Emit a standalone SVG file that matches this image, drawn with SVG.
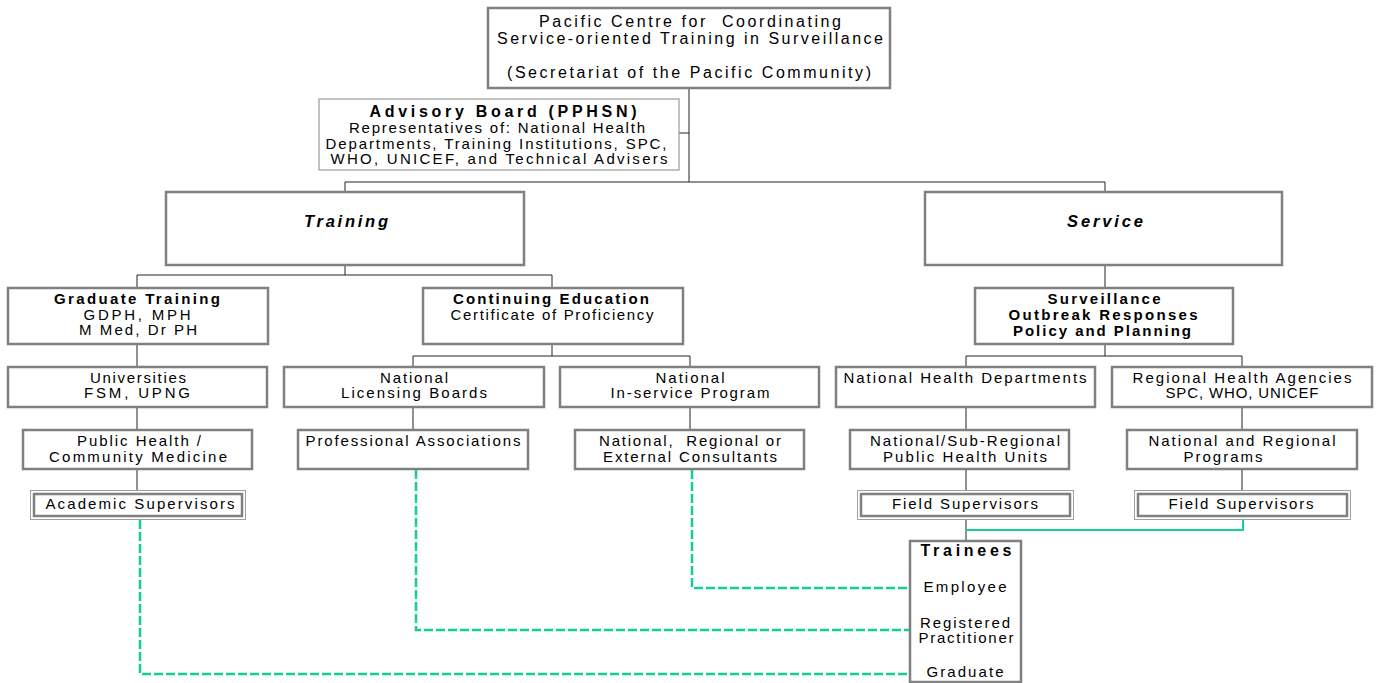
<svg xmlns="http://www.w3.org/2000/svg" width="1378" height="683" viewBox="0 0 1378 683">
<style>
text{font-family:"Liberation Sans",Arial,sans-serif;font-size:15px;fill:#000;text-anchor:middle}
.b{font-weight:bold;font-size:15px}
.bi{font-weight:bold;font-style:italic;font-size:16.5px}
.top{font-size:16px}
.big{font-size:16px}
.pre{white-space:pre}
.box{fill:#fff;stroke:#808080;stroke-width:2.5}
.thin{fill:#fff;stroke:#9a9a9a;stroke-width:1.2}
.outer{fill:#fff;stroke:#a0a0a0;stroke-width:1}
.inner{fill:none;stroke:#808080;stroke-width:2.5}
.con{fill:none;stroke:#222;stroke-width:1}
.g{fill:none;stroke:#14cf98;stroke-width:2}
.gd{fill:none;stroke:#10cf98;stroke-width:2.5;stroke-dasharray:9 3}
</style>
<g id="connectors">
<path class="con" d="M689 88V182M679 133H689M345 182H1105M345 182V192M1105 182V192"/>
<path class="con" d="M345 265V275M137 275H552M137 275V288M552 275V288"/>
<path class="con" d="M137 344V367M137 407V430M137 469V490"/>
<path class="con" d="M552 344V356M413 356H690M413 356V367M690 356V367M413 407V430M690 407V430"/>
<path class="con" d="M1105 265V288M1105 344V356M966 356H1242M966 356V367M1242 356V367"/>
<path class="con" d="M966 407V430M966 469V490M966 519V541M1242 407V430M1242 469V490"/>
<path class="g" d="M1243 519V530H966"/>
<path class="gd" d="M692 470V588H910"/>
<path class="gd" d="M416 470V630H910"/>
<path class="gd" d="M140 520V674H918"/>
</g>
<g id="pacific-centre">
<rect class="box" x="488" y="8" width="402" height="80"/>
<text class="pre top" x="690" y="27" textLength="302" lengthAdjust="spacing">Pacific Centre for  Coordinating</text>
<text class="top" x="690" y="44" textLength="386" lengthAdjust="spacing">Service-oriented Training in Surveillance</text>
<text class="top" x="689" y="78" textLength="364" lengthAdjust="spacing">(Secretariat of the Pacific Community)</text>
</g>
<g id="advisory-board">
<rect class="thin" x="319" y="99" width="360" height="71"/>
<text class="b big" x="503" y="117" textLength="267" lengthAdjust="spacing">Advisory Board (PPHSN)</text>
<text x="497" y="133" textLength="296" lengthAdjust="spacing">Representatives of: National Health</text>
<text x="496" y="149" textLength="341" lengthAdjust="spacing">Departments, Training Institutions, SPC,</text>
<text x="499" y="164" textLength="337" lengthAdjust="spacing">WHO, UNICEF, and Technical Advisers</text>
</g>
<g id="training">
<rect class="box" x="166" y="192" width="358" height="73"/>
<text class="bi" x="346" y="227" textLength="84" lengthAdjust="spacing">Training</text>
</g>
<g id="service">
<rect class="box" x="925" y="192" width="357" height="73"/>
<text class="bi" x="1105" y="227" textLength="76" lengthAdjust="spacing">Service</text>
</g>
<g id="graduate-training">
<rect class="box" x="8" y="288" width="260" height="56"/>
<text class="b" x="137" y="304" textLength="166" lengthAdjust="spacing">Graduate Training</text>
<text x="137" y="320" textLength="107" lengthAdjust="spacing">GDPH, MPH</text>
<text x="138" y="335" textLength="118" lengthAdjust="spacing">M Med, Dr PH</text>
</g>
<g id="continuing-education">
<rect class="box" x="423" y="288" width="260" height="56"/>
<text class="b" x="551" y="304" textLength="196" lengthAdjust="spacing">Continuing Education</text>
<text x="552" y="320" textLength="203" lengthAdjust="spacing">Certificate of Proficiency</text>
</g>
<g id="surveillance">
<rect class="box" x="975" y="288" width="258" height="56"/>
<text class="b" x="1104" y="304" textLength="113" lengthAdjust="spacing">Surveillance</text>
<text class="b" x="1103" y="320" textLength="189" lengthAdjust="spacing">Outbreak Responses</text>
<text class="b" x="1102" y="336" textLength="178" lengthAdjust="spacing">Policy and Planning</text>
</g>
<g id="universities">
<rect class="box" x="8" y="367" width="259" height="40"/>
<text x="138" y="383" textLength="96" lengthAdjust="spacing">Universities</text>
<text x="137" y="398" textLength="106" lengthAdjust="spacing">FSM, UPNG</text>
</g>
<g id="licensing-boards">
<rect class="box" x="284" y="367" width="260" height="40"/>
<text x="414" y="383" textLength="68" lengthAdjust="spacing">National</text>
<text x="414" y="398" textLength="146" lengthAdjust="spacing">Licensing Boards</text>
</g>
<g id="inservice-program">
<rect class="box" x="560" y="367" width="259" height="40"/>
<text x="690" y="383" textLength="69" lengthAdjust="spacing">National</text>
<text x="690" y="398" textLength="159" lengthAdjust="spacing">In-service Program</text>
</g>
<g id="national-health-departments">
<rect class="box" x="836" y="367" width="259" height="40"/>
<text x="965" y="383" textLength="243" lengthAdjust="spacing">National Health Departments</text>
</g>
<g id="regional-health-agencies">
<rect class="box" x="1112" y="367" width="260" height="40"/>
<text x="1242" y="383" textLength="219" lengthAdjust="spacing">Regional Health Agencies</text>
<text x="1242" y="398" textLength="153" lengthAdjust="spacing">SPC, WHO, UNICEF</text>
</g>
<g id="public-health">
<rect class="box" x="23" y="430" width="229" height="39"/>
<text x="139" y="446" textLength="124" lengthAdjust="spacing">Public Health /</text>
<text x="138" y="462" textLength="178" lengthAdjust="spacing">Community Medicine</text>
</g>
<g id="professional-associations">
<rect class="box" x="298" y="430" width="230" height="39"/>
<text x="413" y="446" textLength="215" lengthAdjust="spacing">Professional Associations</text>
</g>
<g id="consultants">
<rect class="box" x="575" y="430" width="229" height="39"/>
<text class="pre" x="690" y="446" textLength="182" lengthAdjust="spacing">National,  Regional or</text>
<text x="690" y="462" textLength="174" lengthAdjust="spacing">External Consultants</text>
</g>
<g id="public-health-units">
<rect class="box" x="850" y="430" width="219" height="39"/>
<text x="965" y="446" textLength="190" lengthAdjust="spacing">National/Sub-Regional</text>
<text x="965" y="462" textLength="164" lengthAdjust="spacing">Public Health Units</text>
</g>
<g id="regional-programs">
<rect class="box" x="1127" y="430" width="230" height="39"/>
<text x="1242" y="446" textLength="187" lengthAdjust="spacing">National and Regional</text>
<text x="1223" y="462" textLength="79" lengthAdjust="spacing">Programs</text>
</g>
<g id="academic-supervisors">
<rect class="outer" x="30.5" y="490.5" width="215" height="29"/>
<rect class="inner" x="34" y="494" width="208" height="22"/>
<text x="140" y="509" textLength="189" lengthAdjust="spacing">Academic Supervisors</text>
</g>
<g id="field-supervisors-1">
<rect class="outer" x="857.5" y="490.5" width="216" height="29"/>
<rect class="inner" x="861" y="494" width="209" height="22"/>
<text x="965" y="509" textLength="146" lengthAdjust="spacing">Field Supervisors</text>
</g>
<g id="field-supervisors-2">
<rect class="outer" x="1134.5" y="490.5" width="216" height="29"/>
<rect class="inner" x="1138" y="494" width="209" height="22"/>
<text x="1241" y="509" textLength="145" lengthAdjust="spacing">Field Supervisors</text>
</g>
<g id="trainees">
<rect class="box" x="910" y="541" width="111" height="141"/>
<text class="b big" x="966" y="556" textLength="91" lengthAdjust="spacing">Trainees</text>
<text x="965" y="592" textLength="83" lengthAdjust="spacing">Employee</text>
<text x="965" y="628" textLength="90" lengthAdjust="spacing">Registered</text>
<text x="966" y="643" textLength="95" lengthAdjust="spacing">Practitioner</text>
<text x="965" y="677" textLength="77" lengthAdjust="spacing">Graduate</text>
</g>
</svg>
